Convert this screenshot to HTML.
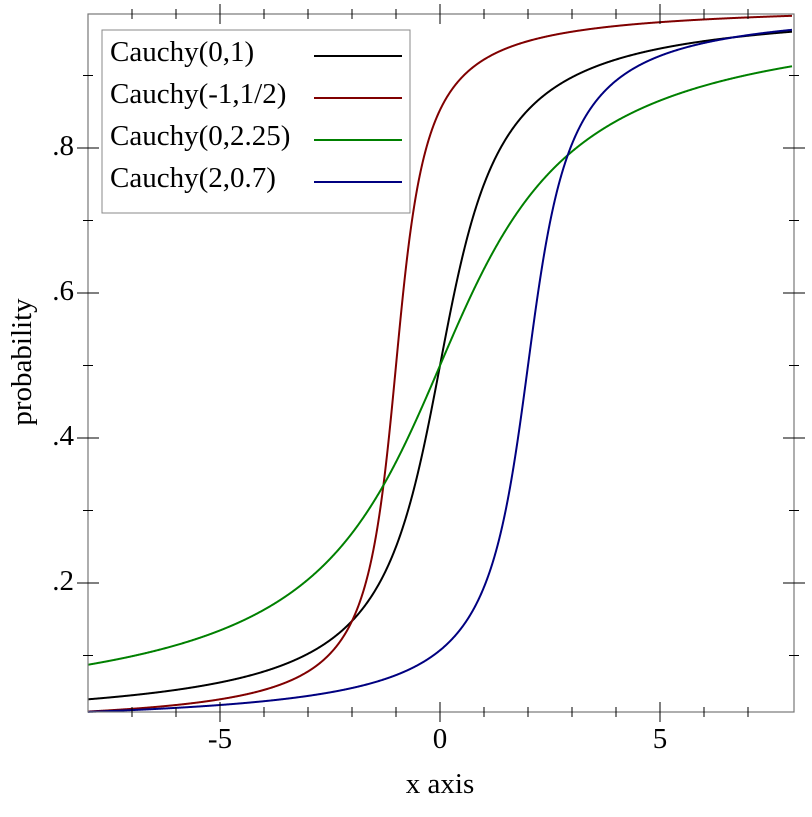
<!DOCTYPE html>
<html><head><meta charset="utf-8"><style>
html,body{margin:0;padding:0;background:#fff}
svg text{font-family:"Liberation Serif",serif;font-size:29px;fill:#000}
</style></head><body>
<svg id="s" width="812" height="812" xmlns="http://www.w3.org/2000/svg">
<rect x="0" y="0" width="812" height="812" fill="#fff"/>
<g id="curves"></g>
<rect x="88" y="14" width="706" height="698" fill="none" stroke="#777" stroke-width="1.2"/>
<g id="ticks" stroke="#000" stroke-width="1"></g>
<text x="220" y="748" text-anchor="middle">-5</text>
<text x="440" y="748" text-anchor="middle">0</text>
<text x="660" y="748" text-anchor="middle">5</text>
<text x="74" y="590" text-anchor="end">.2</text>
<text x="74" y="445" text-anchor="end">.4</text>
<text x="74" y="300" text-anchor="end">.6</text>
<text x="74" y="155" text-anchor="end">.8</text>
<text x="440" y="793" text-anchor="middle">x axis</text>
<text transform="translate(31,362) rotate(-90)" text-anchor="middle">probability</text>
<rect x="102" y="30" width="308" height="183" fill="#fff" stroke="#888" stroke-width="1"/>
<text x="110" y="61">Cauchy(0,1)</text>
<text x="110" y="103">Cauchy(-1,1/2)</text>
<text x="110" y="145">Cauchy(0,2.25)</text>
<text x="110" y="187">Cauchy(2,0.7)</text>
<line x1="314" y1="56" x2="402" y2="56" stroke="#000" stroke-width="2"/>
<line x1="314" y1="98" x2="402" y2="98" stroke="#800000" stroke-width="2"/>
<line x1="314" y1="140" x2="402" y2="140" stroke="#008000" stroke-width="2"/>
<line x1="314" y1="182" x2="402" y2="182" stroke="#000080" stroke-width="2"/>
</svg>
<script>
(function(){
var ns="http://www.w3.org/2000/svg";
function X(x){return 440+44*x;}
function Y(p){return 728-725*p;}
var series=[[0,1,"#000"],[-1,0.5,"#800000"],[0,2.25,"#008000"],[2,0.7,"#000080"]];
var g=document.getElementById("curves");
series.forEach(function(s){
 var d="";
 for(var i=0;i<=1600;i++){var x=-8+16*i/1600;var p=0.5+Math.atan((x-s[0])/s[1])/Math.PI;
  d+=(i?"L":"M")+X(x).toFixed(2)+" "+Y(p).toFixed(2);}
 var pa=document.createElementNS(ns,"path");pa.setAttribute("d",d);pa.setAttribute("fill","none");
 pa.setAttribute("stroke",s[2]);pa.setAttribute("stroke-width","2");g.appendChild(pa);
});
var t=document.getElementById("ticks");
function L(a,b,c,d){var l=document.createElementNS(ns,"line");l.setAttribute("x1",a);l.setAttribute("y1",b);l.setAttribute("x2",c);l.setAttribute("y2",d);t.appendChild(l);}
for(var x=-7;x<=7;x++){var px=X(x);var h=(x%5==0)?10:5;L(px,712-h,px,712+h);L(px,14-h,px,14+h);}
for(var k=1;k<=9;k++){var py=Y(k/10);var h=(k%2==0)?11:5;L(88-h,py,88+h,py);L(794-h,py,794+h,py);}
})();
</script>
</body></html>
